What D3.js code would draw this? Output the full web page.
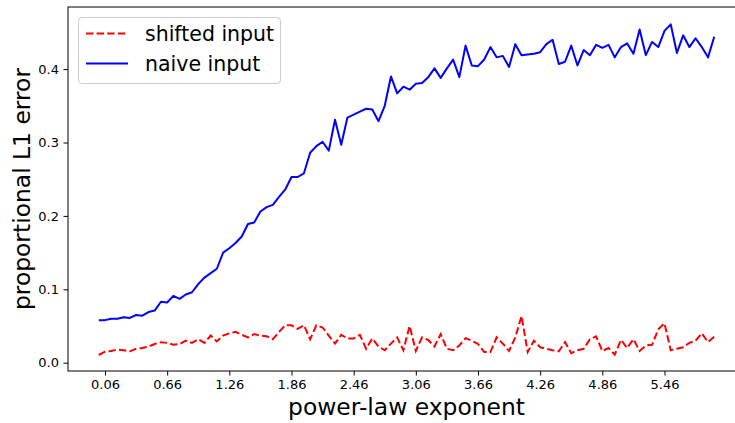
<!DOCTYPE html>
<html>
<head>
<meta charset="utf-8">
<script src="https://cdn.jsdelivr.net/npm/d3@7"></script>
<style>
  html, body { margin: 0; padding: 0; background: #fff; }
  svg { display: block; font-family: "DejaVu Sans", sans-serif; }
</style>
</head>
<body>
<svg id="chart" width="735" height="423"></svg>
<script>
// x values: 0, 0.06, ..., 5.94
const step = 0.06;
const nPoints = 100;
const xTickValues = [0.06, 0.66, 1.26, 1.86, 2.46, 3.06, 3.66, 4.26, 4.86, 5.46];
const xTickLabels = ["0.06", "0.66", "1.26", "1.86", "2.46", "3.06", "3.66", "4.26", "4.86", "5.46"];
const yTickValues = [0.0, 0.1, 0.2, 0.3, 0.4];
const seriesNames = ["shifted input", "naive input"];

const shifted = [
  0.0105, 0.015, 0.016, 0.018, 0.017, 0.0155, 0.019, 0.020, 0.022, 0.0255,
  0.028, 0.027, 0.0245, 0.0255, 0.030, 0.027, 0.032, 0.027, 0.037, 0.029,
  0.037, 0.040, 0.042, 0.038, 0.0345, 0.039, 0.037, 0.036, 0.032, 0.042,
  0.051, 0.051, 0.046, 0.051, 0.032, 0.051, 0.048, 0.037, 0.026, 0.038,
  0.033, 0.033, 0.038, 0.019, 0.033, 0.022, 0.017, 0.026, 0.0345, 0.017,
  0.050, 0.016, 0.0345, 0.031, 0.022, 0.039, 0.019, 0.017, 0.0235, 0.0335,
  0.030, 0.0255, 0.0145, 0.0145, 0.0345, 0.026, 0.016, 0.0345, 0.0636, 0.0145,
  0.030, 0.021, 0.019, 0.017, 0.0155, 0.028, 0.013, 0.017, 0.019, 0.032,
  0.036, 0.016, 0.020, 0.011, 0.031, 0.020, 0.032, 0.016, 0.0235, 0.0245,
  0.0455, 0.0537, 0.017, 0.019, 0.021, 0.027, 0.030, 0.040, 0.028, 0.0355
];

const naive = [
  0.058, 0.058, 0.060, 0.060, 0.062, 0.061, 0.065, 0.064, 0.069, 0.071,
  0.083, 0.082, 0.091, 0.087, 0.093, 0.096, 0.107, 0.116, 0.122, 0.128,
  0.150, 0.156, 0.163, 0.172, 0.189, 0.191, 0.206, 0.212, 0.215, 0.226,
  0.236, 0.253, 0.253, 0.258, 0.286, 0.295, 0.301, 0.289, 0.331, 0.297,
  0.334, 0.338, 0.342, 0.346, 0.345, 0.329, 0.350, 0.390, 0.367, 0.376,
  0.372, 0.380, 0.381, 0.389, 0.401, 0.388, 0.401, 0.413, 0.389, 0.432,
  0.405, 0.404, 0.413, 0.430, 0.416, 0.418, 0.403, 0.434, 0.419, 0.420,
  0.421, 0.423, 0.434, 0.440, 0.407, 0.410, 0.432, 0.405, 0.426, 0.419,
  0.433, 0.429, 0.433, 0.416, 0.430, 0.435, 0.421, 0.454, 0.419, 0.437,
  0.430, 0.452, 0.461, 0.422, 0.446, 0.430, 0.442, 0.430, 0.416, 0.444
];

const xs = d3.range(nPoints).map(i => +(i * step).toFixed(2));

const svg = d3.select("#chart");
const margin = { left: 68, top: 7, right: 745, bottom: 371 };

const x = d3.scaleLinear().domain([-0.297, 6.237]).range([margin.left, margin.right]);
const y = d3.scaleLinear().domain([-0.0113, 0.4846]).range([margin.bottom, margin.top]);

const dash = "7.4,3.2";

// Lines
const line = d3.line().x((d, i) => x(xs[i])).y(d => y(d));

svg.append("path")
  .datum(shifted)
  .attr("d", line)
  .attr("fill", "none")
  .attr("stroke", "#ff0000")
  .attr("stroke-width", 2)
  .attr("stroke-dasharray", dash);

svg.append("path")
  .datum(naive)
  .attr("d", line)
  .attr("fill", "none")
  .attr("stroke", "#0000ff")
  .attr("stroke-width", 2)
  .attr("stroke-linejoin", "round");

// Frame
svg.append("rect")
  .attr("x", margin.left).attr("y", margin.top)
  .attr("width", margin.right - margin.left)
  .attr("height", margin.bottom - margin.top)
  .attr("fill", "none").attr("stroke", "#000").attr("stroke-width", 1);

// Axes
const xAxis = d3.axisBottom(x)
  .tickValues(xTickValues)
  .tickFormat((d, i) => xTickLabels[i])
  .tickSize(4.5).tickPadding(4.5);
const gx = svg.append("g").attr("transform", `translate(0,${margin.bottom})`).call(xAxis);
gx.select(".domain").remove();
gx.selectAll("line").attr("stroke", "#000").attr("stroke-width", 1);
gx.selectAll("text").attr("font-size", 13).attr("font-family", "DejaVu Sans").attr("fill", "#000");

const yAxis = d3.axisLeft(y)
  .tickValues(yTickValues)
  .tickFormat(d3.format(".1f"))
  .tickSize(4.5).tickPadding(4.5);
const gy = svg.append("g").attr("transform", `translate(${margin.left},0)`).call(yAxis);
gy.select(".domain").remove();
gy.selectAll("line").attr("stroke", "#000").attr("stroke-width", 1);
gy.selectAll("text").attr("font-size", 13).attr("font-family", "DejaVu Sans").attr("fill", "#000");

// Axis labels
svg.append("text")
  .attr("x", (margin.left + margin.right) / 2)
  .attr("y", 415)
  .attr("text-anchor", "middle")
  .attr("font-size", 23.4)
  .attr("fill", "#000")
  .text("power-law exponent");

svg.append("text")
  .attr("transform", `translate(30,${(margin.top + margin.bottom) / 2}) rotate(-90)`)
  .attr("text-anchor", "middle")
  .attr("font-size", 23.4)
  .attr("fill", "#000")
  .text("proportional L1 error");

// Legend
const lg = svg.append("g");
lg.append("rect")
  .attr("x", 78.5).attr("y", 17.5)
  .attr("width", 202).attr("height", 66)
  .attr("rx", 3.5).attr("ry", 3.5)
  .attr("fill", "#fff").attr("fill-opacity", 0.8)
  .attr("stroke", "#cccccc").attr("stroke-width", 1);

const legendItems = [
  { name: seriesNames[0], color: "#ff0000", dash: dash, yy: 33.5 },
  { name: seriesNames[1], color: "#0000ff", dash: null, yy: 63.5 }
];
legendItems.forEach(it => {
  lg.append("line")
    .attr("x1", 86).attr("x2", 128)
    .attr("y1", it.yy).attr("y2", it.yy)
    .attr("stroke", it.color).attr("stroke-width", 2)
    .attr("stroke-dasharray", it.dash);
  lg.append("text")
    .attr("x", 145).attr("y", it.yy)
    .attr("dy", "0.35em")
    .attr("font-size", 20.5)
    .attr("fill", "#000")
    .text(it.name);
});
</script>
</body>
</html>
